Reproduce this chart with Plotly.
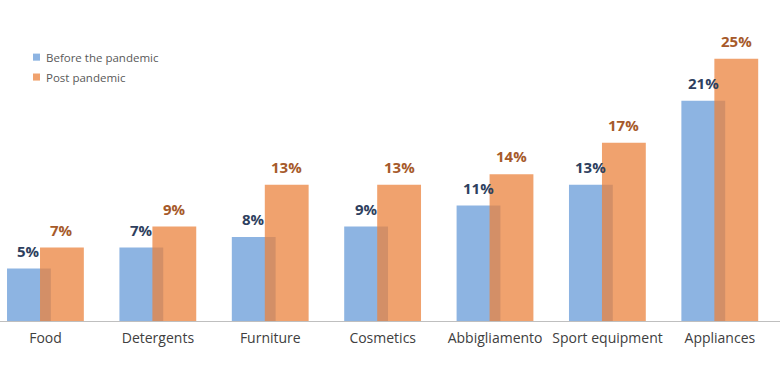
import plotly.graph_objects as go

categories = ["Food", "Detergents", "Furniture", "Cosmetics", "Abbigliamento", "Sport equipment", "Appliances"]
before = [5, 7, 8, 9, 11, 13, 21]
post = [7, 9, 13, 13, 14, 17, 25]
series_names = ["Before the pandemic", "Post pandemic"]
series_colors = ["#8DB4E2", "rgba(235,131,62,0.75)"]
legend_colors = ["#8DB4E2", "#F0A26E"]
label_colors = ["#2E3F5E", "#A65A2A"]

x = list(range(len(categories)))
bar_width = 0.39
offsets = [-0.3425, -0.049]

fig = go.Figure()
annotations = []
for vals, name, col, off, lcol in zip([before, post], series_names, series_colors, offsets, label_colors):
    fig.add_trace(go.Bar(
        x=x, y=vals, name=name,
        marker=dict(color=col, line=dict(width=0)),
        width=bar_width, offset=off,
        showlegend=False, hoverinfo="x+y",
    ))
    for xi, v in zip(x, vals):
        annotations.append(dict(
            x=xi + off + bar_width / 2, y=v, xref="x", yref="y",
            text=f"{v}%", showarrow=False, yanchor="bottom", yshift=6,
            font=dict(family="Open Sans", size=15, color=lcol, weight="bold"),
        ))

# manual legend (top-left)
shapes = []
for i, (name, col) in enumerate(zip(series_names, legend_colors)):
    yc = 0.822 - i * 0.062
    shapes.append(dict(type="rect", xref="paper", yref="paper",
                       x0=33 / 780, x1=40 / 780, y0=yc - 0.011, y1=yc + 0.011,
                       fillcolor=col, line=dict(width=0)))
    annotations.append(dict(xref="paper", yref="paper", x=44 / 780, y=yc,
                            xanchor="left", yanchor="middle", showarrow=False,
                            text=name, font=dict(family="Open Sans", size=11.5, color="#595959")))

fig.update_layout(
    width=780, height=376,
    margin=dict(l=0, r=0, t=0, b=55),
    barmode="overlay",
    plot_bgcolor="white", paper_bgcolor="white",
    font=dict(family="Open Sans", color="#444444"),
    showlegend=False,
    shapes=shapes, annotations=annotations,
    xaxis=dict(
        tickmode="array", tickvals=x, ticktext=categories,
        range=[-0.405, 6.535], showgrid=False, zeroline=False,
        showline=True, linecolor="#BFBFBF", linewidth=1,
        ticks="", ticklabelstandoff=4, tickfont=dict(size=14, color="#404040"),
    ),
    yaxis=dict(range=[0, 30.6], visible=False, showgrid=False),
)

fig.write_html("out.html", config={"displayModeBar": False},
               post_script="document.body.style.margin='0';")
